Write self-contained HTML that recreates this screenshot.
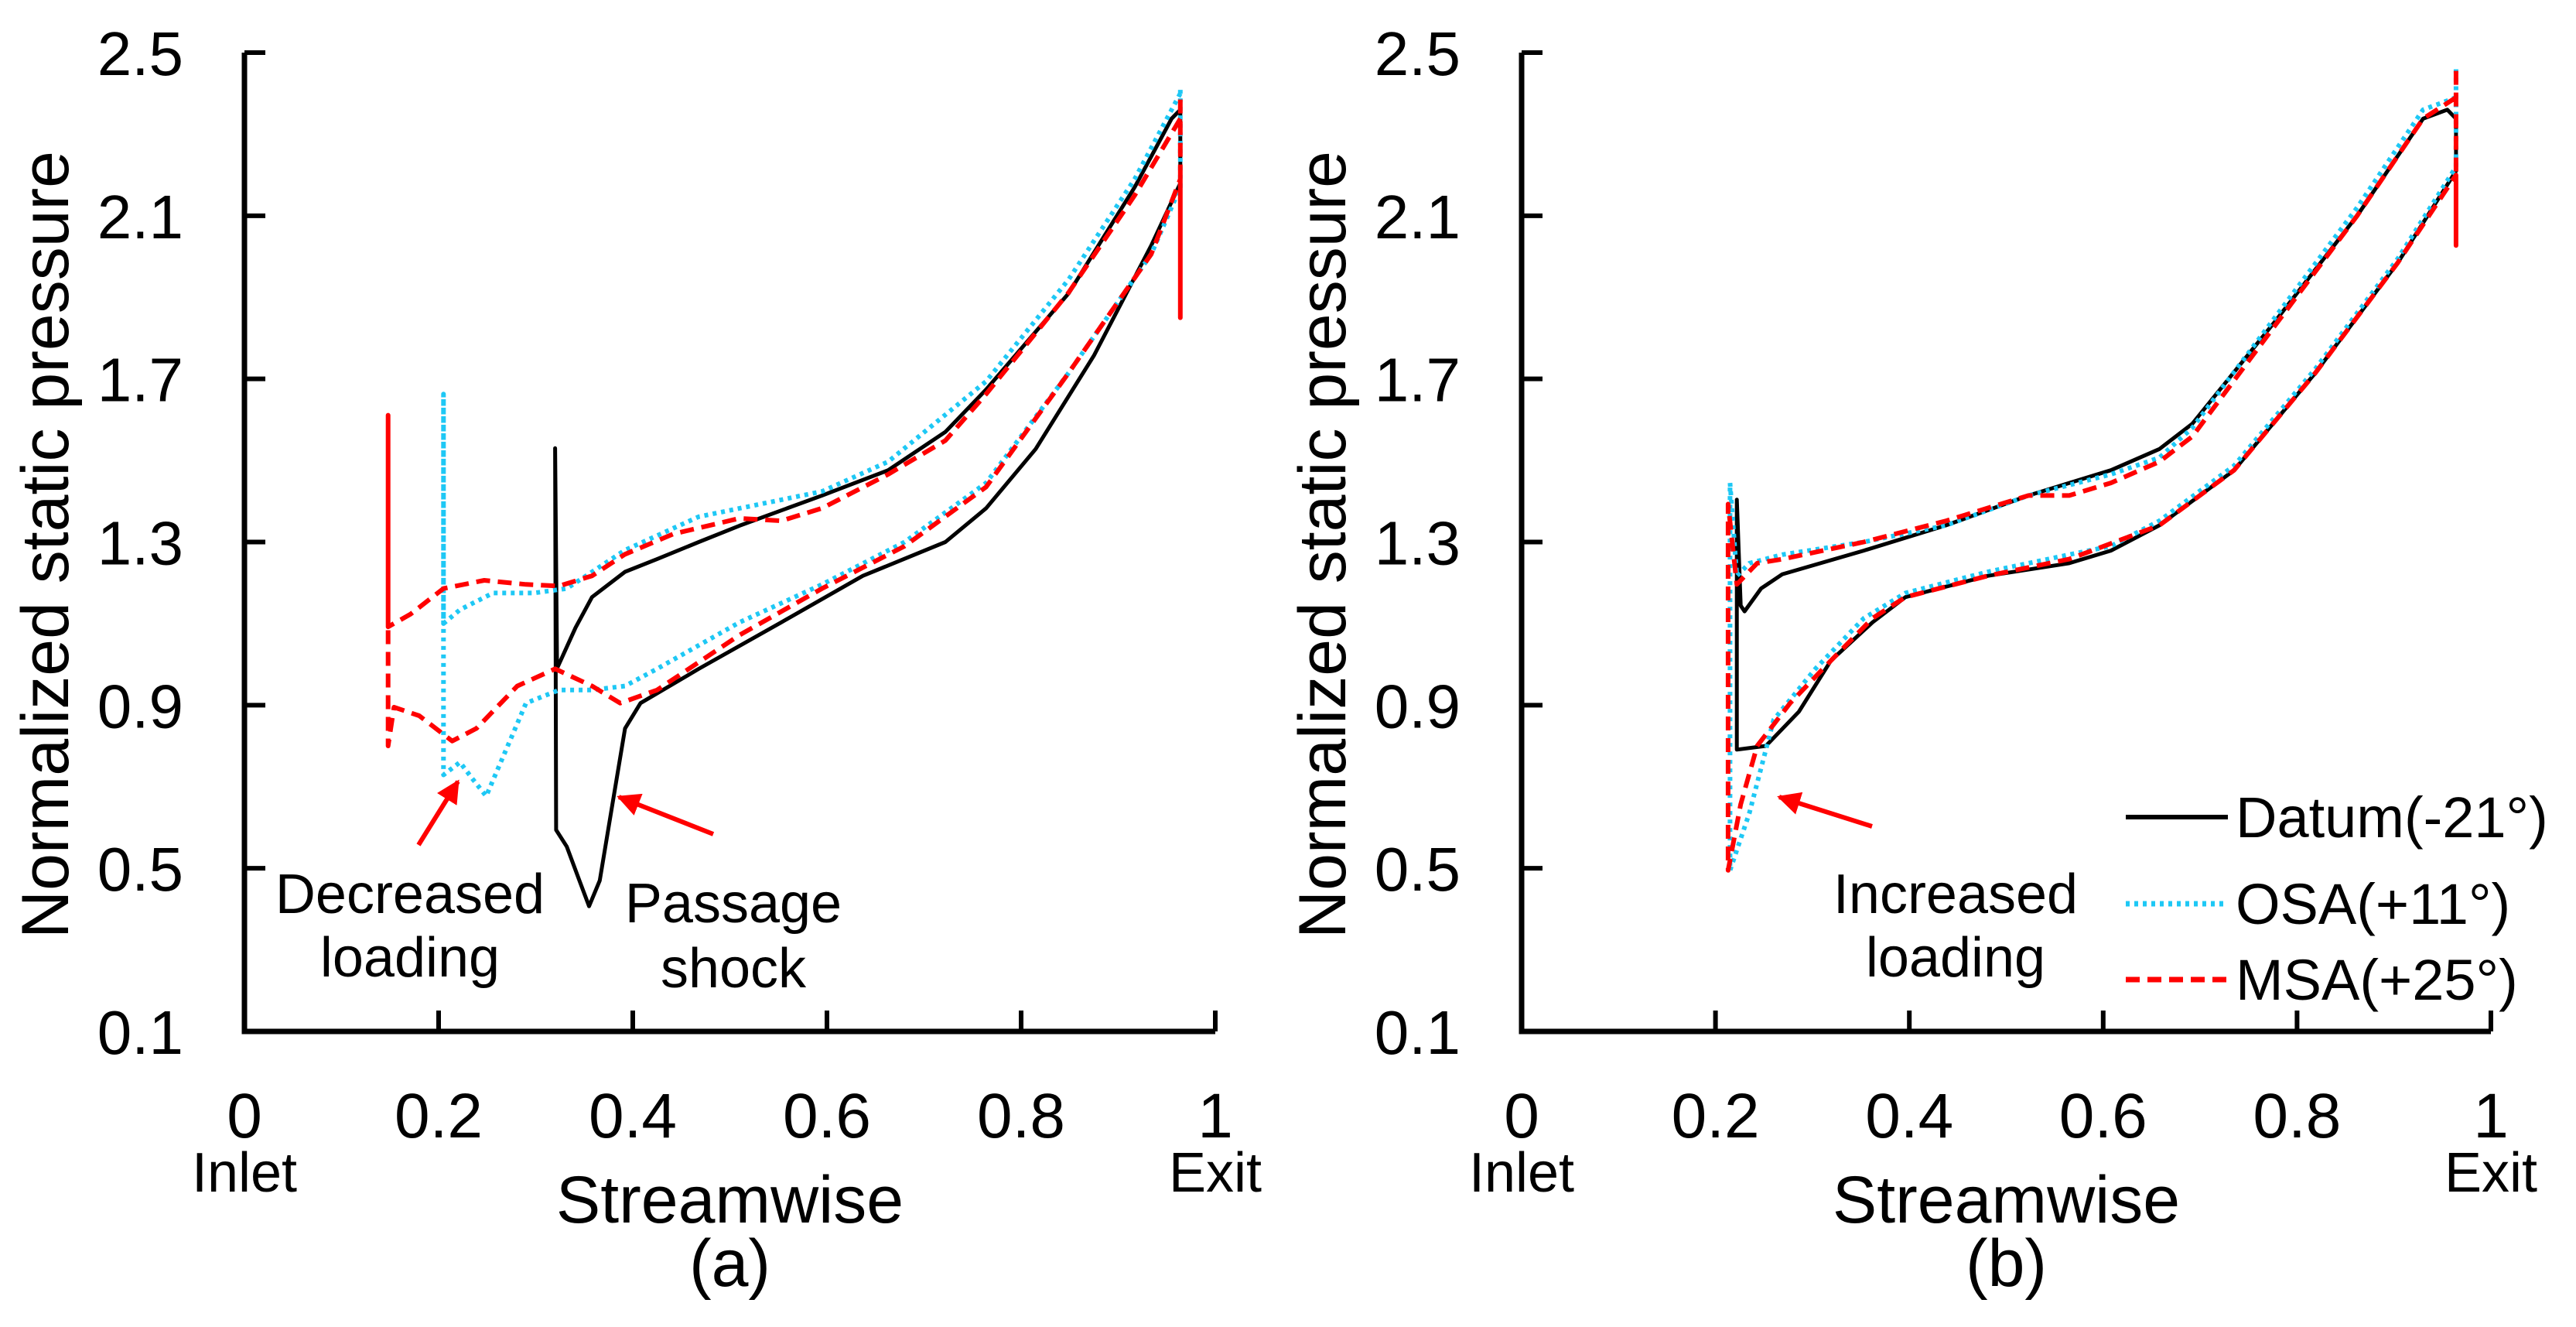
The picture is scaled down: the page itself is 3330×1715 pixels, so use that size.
<!DOCTYPE html>
<html><head><meta charset="utf-8"><style>
html,body{margin:0;padding:0;background:#fff;width:3330px;height:1715px;overflow:hidden}
svg text{font-family:"Liberation Sans",Arial,sans-serif;fill:#000}
</style></head><body>
<svg id="fig" width="3330" height="1715" viewBox="0 0 3330 1715" xmlns="http://www.w3.org/2000/svg">
<defs>
<marker id="ah" viewBox="0 0 10 10" refX="9" refY="5" markerWidth="5" markerHeight="5" orient="auto"><path d="M0,0 L10,5 L0,10 z" fill="#ff0000"/></marker>
</defs>
</svg>
<script>
// ---- data ----
const yTicks = [0.1, 0.5, 0.9, 1.3, 1.7, 2.1, 2.5];
const yTickLabels = ["0.1","0.5","0.9","1.3","1.7","2.1","2.5"];
const xTicks = [0, 0.2, 0.4, 0.6, 0.8, 1];
const xTickLabels = ["0","0.2","0.4","0.6","0.8","1"];
const seriesNames = ["Datum(-21°)","OSA(+11°)","MSA(+25°)"];

// Panel (a)
const aDatumX = [0.964,0.955,0.917,0.849,0.764,0.722,0.663,0.595,0.51,0.468,0.425,0.392,0.358,0.341,0.322,0.320,0.321,0.332,0.345,0.355,0.366,0.379,0.392,0.408,0.468,0.553,0.637,0.722,0.764,0.815,0.875,0.934,0.964,0.964];
const aDatumY = [2.36,2.338,2.17,1.91,1.674,1.57,1.476,1.414,1.34,1.30,1.258,1.227,1.165,1.09,0.99,1.53,0.594,0.553,0.47,0.407,0.47,0.656,0.843,0.905,0.989,1.103,1.217,1.30,1.383,1.528,1.757,2.027,2.18,2.36];
const aOsaX = [0.964,0.917,0.849,0.764,0.663,0.595,0.468,0.392,0.332,0.298,0.256,0.222,0.205,0.205,0.205,0.222,0.235,0.249,0.264,0.29,0.324,0.358,0.392,0.425,0.51,0.595,0.68,0.764,0.849,0.934,0.964,0.964];
const aOsaY = [2.40,2.19,1.944,1.694,1.497,1.424,1.362,1.28,1.186,1.175,1.175,1.134,1.10,1.663,0.729,0.76,0.719,0.677,0.76,0.905,0.937,0.937,0.947,0.989,1.103,1.196,1.30,1.445,1.715,2.006,2.17,2.42];
const aMsaX = [0.964,0.917,0.849,0.764,0.722,0.663,0.595,0.553,0.51,0.442,0.392,0.358,0.324,0.29,0.247,0.205,0.171,0.148,0.148,0.148,0.154,0.18,0.214,0.239,0.281,0.32,0.358,0.387,0.425,0.51,0.595,0.68,0.764,0.849,0.934,0.964,0.964,0.964];
const aMsaY = [2.338,2.15,1.912,1.663,1.549,1.466,1.383,1.352,1.358,1.32,1.27,1.217,1.192,1.196,1.206,1.186,1.123,1.092,1.611,0.80,0.895,0.874,0.812,0.843,0.947,0.989,0.947,0.905,0.937,1.072,1.186,1.29,1.435,1.715,2.006,2.19,1.85,2.40];

// Panel (b)
const bDatumX = [0.964,0.955,0.93,0.862,0.777,0.692,0.658,0.608,0.523,0.438,0.353,0.269,0.247,0.230,0.226,0.222,0.222,0.252,0.286,0.319,0.362,0.396,0.481,0.565,0.608,0.658,0.735,0.819,0.904,0.964,0.964];
const bDatumY = [2.338,2.36,2.338,2.10,1.84,1.59,1.528,1.476,1.414,1.341,1.279,1.221,1.186,1.13,1.144,1.404,0.791,0.80,0.884,1.009,1.103,1.165,1.217,1.248,1.279,1.341,1.476,1.715,1.985,2.21,2.338];
const bOsaX = [0.964,0.93,0.862,0.777,0.692,0.658,0.608,0.523,0.438,0.353,0.269,0.235,0.222,0.215,0.215,0.235,0.26,0.303,0.353,0.396,0.481,0.565,0.608,0.658,0.735,0.819,0.904,0.964,0.964];
const bOsaY = [2.39,2.36,2.12,1.85,1.58,1.507,1.466,1.414,1.341,1.30,1.269,1.248,1.217,1.445,0.495,0.636,0.864,0.989,1.113,1.175,1.227,1.269,1.29,1.352,1.487,1.725,1.995,2.22,2.46];
const bMsaX = [0.964,0.93,0.862,0.777,0.692,0.658,0.608,0.565,0.523,0.438,0.353,0.269,0.243,0.222,0.213,0.213,0.226,0.243,0.277,0.319,0.362,0.396,0.481,0.565,0.658,0.735,0.819,0.904,0.964,0.964,0.964];
const bMsaY = [2.39,2.338,2.10,1.83,1.559,1.497,1.445,1.414,1.414,1.352,1.30,1.258,1.248,1.196,1.393,0.495,0.657,0.80,0.905,1.009,1.113,1.165,1.217,1.258,1.341,1.476,1.715,1.985,2.20,2.027,2.47];

// ---- drawing ----
const NS = "http://www.w3.org/2000/svg";
const svg = document.getElementById("fig");
const Y0 = 1333, Y1 = 68;
function mk(tag, attrs, parent){
  const e = document.createElementNS(NS, tag);
  for (const k in attrs) e.setAttribute(k, attrs[k]);
  (parent||svg).appendChild(e);
  return e;
}
const styles = [
  {stroke:"#000", w:5, dash:null},
  {stroke:"#1ec8f5", w:6, dash:"5,6"},
  {stroke:"#ff0000", w:6, dash:"18,10"}
];

function panel(id, x0, x1, sets, caption){
  const xs = v => x0 + (x1 - x0) * v;
  const ys = v => Y0 - (Y0 - Y1) * (v - 0.1) / 2.4;
  const g = mk("g", {});
  
  
  const ax = mk("path", {d:`M${x0},${Y1} V${Y0} H${x1}`, fill:"none", stroke:"#000", "stroke-width":7}, g);
  
  
  yTicks.forEach((t,i)=>{
    const tk = mk("line", {x1:x0, x2:x0+27, y1:ys(t), y2:ys(t), stroke:"#000", "stroke-width":6}, g);
    
    
    const lb = mk("text", {x:x0-79, y:ys(t)+29, "font-size":80, "text-anchor":"end"}, g);
    lb.textContent = yTickLabels[i];
    
    
  });
  xTicks.forEach((t,i)=>{
    if (t > 0) {
      const tk = mk("line", {x1:xs(t), x2:xs(t), y1:Y0, y2:Y0-27, stroke:"#000", "stroke-width":6}, g);
      
      
    }
    const lb = mk("text", {x:xs(t), y:1470, "font-size":82, "text-anchor":"middle"}, g);
    lb.textContent = xTickLabels[i];
    
    
  });
  const inl = mk("text", {x:x0, y:1540, "font-size":72, "text-anchor":"middle"}, g);
  inl.textContent = "Inlet";
  
  
  const ex = mk("text", {x:x1, y:1540, "font-size":72, "text-anchor":"middle"}, g);
  ex.textContent = "Exit";
  
  
  const xt = mk("text", {x:(x0+x1)/2, y:1580, "font-size":86, "text-anchor":"middle"}, g);
  xt.textContent = "Streamwise";
  
  
  const cp = mk("text", {x:(x0+x1)/2, y:1662, "font-size":86, "text-anchor":"middle"}, g);
  cp.textContent = caption;
  
  
  const yt = mk("text", {x:0, y:0, "font-size":86, "text-anchor":"middle", transform:`translate(${x0-228},704) rotate(-90)`}, g);
  yt.textContent = "Normalized static pressure";
  
  
  sets.forEach((s,i)=>{
    const st = styles[i];
    const pts = s[0].map((v,k)=> xs(v).toFixed(1)+","+ys(s[1][k]).toFixed(1)).join(" ");
    const attrs = {points:pts, fill:"none", stroke:st.stroke, "stroke-width":st.w, "stroke-linejoin":"round"};
    if (st.dash) attrs["stroke-dasharray"] = st.dash;
    const pl = mk("polyline", attrs, g);
    
    
  });
  return g;
}

panel("a", 316, 1571, [[aDatumX,aDatumY],[aOsaX,aOsaY],[aMsaX,aMsaY]], "(a)");
panel("b", 1967, 3220, [[bDatumX,bDatumY],[bOsaX,bOsaY],[bMsaX,bMsaY]], "(b)");

function txt(x,y,s,name){
  const t = mk("text", {x:x, y:y, "font-size":72, "text-anchor":"middle"});
  t.textContent = s;
  
  
}
function arrow(x1,y1,x2,y2,name){
  const l = mk("line", {x1:x1,y1:y1,x2:x2,y2:y2,stroke:"#ff0000","stroke-width":6,"marker-end":"url(#ah)"});
  
  
}
txt(530,1180,"Decreased","annotation-decreased");
txt(530,1262,"loading","annotation-decreased-loading");
txt(948,1192,"Passage","annotation-passage");
txt(948,1276,"shock","annotation-passage-shock");
txt(2528,1180,"Increased","annotation-increased");
txt(2528,1262,"loading","annotation-increased-loading");
arrow(541,1092,592,1010,"arrow-decreased");
arrow(922,1078,800,1030,"arrow-passage");
arrow(2420,1068,2300,1030,"arrow-increased");

const legY = [1056,1168,1266];
seriesNames.forEach((n,i)=>{
  const st = styles[i];
  const a = {x1:2748,x2:2880,y1:legY[i],y2:legY[i],stroke:st.stroke,"stroke-width":st.w+1};
  if (st.dash) a["stroke-dasharray"] = st.dash;
  const l = mk("line", a);
  
  
  const t = mk("text", {x:2890, y:legY[i]+26, "font-size":74});
  t.textContent = n;
  
  
});
</script>
</body></html>
